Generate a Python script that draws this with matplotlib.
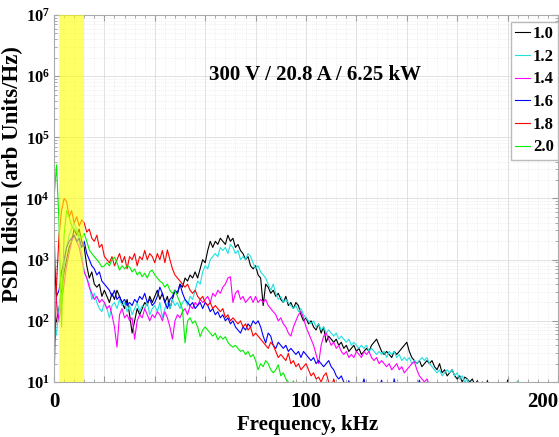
import numpy as np
import matplotlib
matplotlib.use("Agg")
import matplotlib.pyplot as plt
from matplotlib.ticker import MultipleLocator, FixedLocator, NullFormatter

plt.rcParams['font.family'] = ['Liberation Serif', 'DejaVu Serif']
plt.rcParams['font.weight'] = 'bold'
plt.rcParams['mathtext.fontset'] = 'custom'
plt.rcParams['mathtext.rm'] = 'Liberation Serif:bold'
plt.rcParams['mathtext.it'] = 'Liberation Serif:bold'
plt.rcParams['mathtext.bf'] = 'Liberation Serif:bold'

# log10(PSD) values, one value per 1 kHz starting at 0 kHz
labels = ['1.0', '1.2', '1.4', '1.6', '1.8', '2.0']
colors = ['#000000', '#22e0e0', '#ff00ff', '#0000ff', '#ff0000', '#00ee00']

psd_10 = [1.9, 2.0, 2.2, 2.5, 2.8, 3.0, 3.2, 3.3, 3.5, 3.4, 3.5, 3.3, 3.2,
          2.9, 2.7, 2.8, 2.6, 2.55, 2.6, 2.4, 2.5,
          2.4, 2.3, 2.45, 2.35, 2.5, 2.4, 2.3, 2.2, 2.35, 2.1,
          1.8, 2.0, 2.2, 2.1, 2.2, 2.3, 2.25, 2.4, 2.3, 2.4,
          2.5, 2.35, 2.45, 2.3, 2.4, 2.2, 2.35, 2.5, 2.45, 2.6,
          2.55, 2.7, 2.65, 2.75, 2.7, 2.8, 2.7, 2.85, 3.0, 2.95,
          3.15, 3.3, 3.2, 3.3, 3.25, 3.35, 3.3, 3.25, 3.4, 3.3,
          3.35, 3.2, 3.25, 3.15, 3.1, 3.0, 3.05, 2.9, 2.85, 2.9,
          2.75, 2.7, 2.25, 2.6, 2.55, 2.45, 2.5, 2.4, 2.45, 2.35,
          2.3, 2.4, 2.25, 2.3, 2.2, 2.3, 2.25, 2.1, 2.0, 2.05,
          1.95, 2.0, 1.9, 1.85, 1.95, 1.8, 1.9, 1.65, 1.75, 1.7,
          1.65, 1.7, 1.6, 1.65, 1.55, 1.6, 1.5, 1.55, 1.6, 1.5,
          1.55, 1.45, 1.5, 1.55, 1.5, 1.6, 1.65, 1.7, 1.6, 1.5,
          1.45, 1.5, 1.45, 1.4, 1.5, 1.45, 1.5, 1.55, 1.6, 1.65,
          1.5, 1.4, 1.35, 1.3, 1.35, 1.25, 1.3, 1.35, 1.3, 1.35,
          1.25, 1.2, 1.3, 1.15, 1.2, 1.1, 1.15, 1.2, 1.1, 1.05,
          1.1, 1.0, 1.08, 1.05, 1.0, 1.05, 0.95, 1.02, 0.9, 1.0,
          0.9, 1.02, 0.85, 0.9, 0.8, 0.9, 0.85, 0.95, 0.8, 1.03]

psd_12 = [1.65, 1.8, 2.2, 2.6, 2.9, 3.2, 3.4, 3.5, 3.6, 3.5, 3.3, 3.1, 2.8,
          2.7, 2.6, 2.35, 2.45, 2.3, 2.2, 2.15, 2.3,
          2.2, 2.05, 2.25, 2.3, 2.2, 2.35, 2.25, 2.3, 2.15, 2.25,
          2.1, 2.2, 2.3, 2.15, 2.25, 2.2, 2.3, 2.1, 2.2, 2.25,
          2.15, 2.3, 2.05, 2.2, 2.3, 2.2, 2.35, 2.25, 2.3, 2.2,
          2.3, 2.35, 2.25, 2.4, 2.35, 2.5, 2.65, 2.6, 2.8, 2.9,
          2.85, 3.0, 3.05, 3.1, 3.05, 3.2, 3.15, 3.2, 3.1, 3.25,
          3.2, 3.1, 3.15, 3.0, 3.05, 3.0, 3.1, 3.05, 2.95, 2.85,
          2.9, 2.8, 2.75, 2.7, 2.6, 2.5, 2.6, 2.45, 2.35, 2.4,
          2.3, 2.35, 2.3, 2.25, 2.2, 2.25, 2.15, 2.2, 2.1, 2.05,
          2.0, 1.95, 2.0, 1.9, 1.95, 1.85, 1.9, 1.8, 1.85, 1.8,
          1.75, 1.8, 1.7, 1.75, 1.7, 1.65, 1.7, 1.6, 1.65, 1.6,
          1.55, 1.6, 1.55, 1.6, 1.5, 1.55, 1.5, 1.45, 1.5, 1.45,
          1.5, 1.4, 1.5, 1.45, 1.5, 1.4, 1.45, 1.35, 1.4, 1.35,
          1.4, 1.3, 1.35, 1.3, 1.35, 1.4, 1.35, 1.4, 1.3, 1.25,
          1.2, 1.15, 1.2, 1.1, 1.15, 1.2, 1.15, 1.2, 1.1, 1.15,
          1.05, 1.1, 1.0, 1.05, 0.95, 1.0, 0.9, 1.0, 0.85, 0.9,
          0.8, 0.9, 0.85, 0.95, 0.8, 0.9, 0.85, 0.8, 0.9, 0.85,
          0.8, 0.9, 0.95, 1.02, 0.8]

psd_14 = [3.5, 2.3, 2.0, 2.3, 2.6, 2.9, 3.1, 3.3, 3.4, 3.3, 3.2, 3.0, 2.8,
          2.7, 2.55, 2.45, 2.35, 2.4, 2.3, 2.35, 2.3,
          2.2, 2.25, 2.1, 1.9, 1.57, 2.1, 2.2, 2.05, 2.1, 2.0,
          2.05, 1.7, 2.0, 2.1, 2.05, 2.2, 2.1, 2.0, 2.1, 2.05,
          2.15, 2.1, 2.0, 2.15, 2.05, 1.9, 1.7, 2.0, 2.1, 2.05,
          2.15, 2.2, 2.1, 2.25, 2.2, 2.3, 2.25, 2.35, 2.3, 2.35,
          2.4, 2.3, 2.45, 2.4, 2.5, 2.45, 2.55, 2.6, 2.7, 2.72,
          2.3, 2.45, 2.5, 2.35, 2.4, 2.3, 2.35, 2.4, 2.3, 2.4,
          2.3, 2.35, 2.3, 2.35, 2.25, 2.2, 2.15, 2.1, 2.0, 2.05,
          1.95, 1.9, 1.8, 1.75, 1.9, 2.0, 2.1, 2.15, 2.05, 1.9,
          1.8, 1.7, 1.6, 1.45, 1.3, 1.6, 1.75, 1.8, 1.7, 1.6,
          1.65, 1.55, 1.6, 1.5, 1.45, 1.5, 1.4, 1.45, 1.4, 1.5,
          1.45, 1.4, 1.5, 1.45, 1.5, 1.4, 1.35, 1.4, 1.3, 1.35,
          1.3, 1.25, 1.3, 1.2, 1.25, 1.3, 1.2, 1.25, 1.15, 1.2,
          1.25, 1.3, 1.33, 1.2, 1.1, 1.05, 1.0, 1.05, 0.95, 0.9, 0.85]

psd_16 = [3.0, 2.4, 2.5, 2.8, 3.0, 3.2, 3.3, 3.35, 3.4, 3.3, 3.35, 3.2, 3.3,
          3.1, 3.0, 2.9, 2.85, 2.75, 2.8, 2.65, 2.6,
          2.55, 2.5, 2.4, 2.5, 2.35, 2.4, 2.3, 2.35, 2.25, 2.3,
          2.25, 2.35, 2.3, 2.4, 2.35, 2.45, 2.3, 2.35, 2.25, 2.3,
          2.4, 2.55, 2.45, 2.3, 2.2, 2.35, 2.4, 2.5, 2.45, 2.6,
          2.45, 2.35, 2.3, 2.25, 2.3, 2.2, 2.25, 2.3, 2.2, 2.3,
          2.25, 2.15, 2.2, 2.1, 2.15, 2.05, 2.1, 2.0, 2.05, 1.95,
          2.0, 1.9, 1.85, 1.8, 1.9, 1.85, 1.95, 1.9, 2.0, 1.95,
          2.0, 1.9, 1.75, 1.64, 1.8, 1.75, 1.6, 1.55, 1.65, 1.6,
          1.55, 1.6, 1.5, 1.55, 1.5, 1.45, 1.5, 1.4, 1.5, 1.45,
          1.4, 1.35, 1.4, 1.3, 1.35, 1.3, 1.25, 1.3, 1.35, 1.25,
          1.2, 1.1, 1.05, 1.1, 1.0, 0.9, 1.02, 0.9, 0.85, 0.95,
          0.8, 0.9, 1.05, 0.85, 0.8, 0.9, 0.85, 0.8, 0.9, 1.03,
          0.8, 0.85, 0.9, 0.8, 1.05, 0.85, 0.8, 0.9, 0.8, 0.85,
          0.9, 0.8, 0.85, 0.9, 1.03, 0.85, 0.8, 0.9, 0.8, 0.85]

psd_18 = [1.0, 2.6, 3.4, 3.8, 4.0, 3.95, 3.7, 3.8, 3.6, 3.7, 3.55, 3.65, 3.6,
          3.45, 3.5, 3.35, 3.3, 3.4, 3.2, 3.25, 3.05,
          3.0, 2.95, 3.05, 2.9, 3.0, 3.1, 2.95, 3.05, 2.85, 3.05,
          3.0, 3.1, 2.9, 3.05, 3.0, 3.15, 3.0, 3.1, 3.05, 2.95,
          3.1, 3.0, 3.15, 2.95, 3.16, 3.0, 2.85, 2.75, 2.7, 2.65,
          2.6, 2.55, 2.6, 2.5, 2.45, 2.5, 2.4, 2.35, 2.4, 2.3,
          2.25, 2.3, 2.2, 2.25, 2.2, 2.15, 2.2, 2.05, 2.1, 2.0,
          2.05, 2.0, 1.95, 2.0, 1.9, 1.95, 1.85, 1.9, 1.75, 1.8,
          1.75, 1.7, 1.65, 1.6, 1.55, 1.65, 1.6, 1.5, 1.4, 1.45,
          1.4, 1.35, 1.47, 1.3, 1.35, 1.25, 1.3, 1.2, 1.25, 1.3,
          1.2, 1.1, 1.15, 1.05, 1.08, 1.0, 1.1, 1.15, 1.0, 0.9,
          1.05, 0.9, 0.85, 0.95, 0.8]

psd_20 = [4.0, 4.55, 3.6, 1.9, 3.4, 3.8, 3.7, 3.55, 3.5, 3.45, 3.4, 3.35, 3.43,
          3.3, 3.16, 3.1, 3.05, 3.0, 2.95, 2.88, 2.9,
          2.95, 2.9, 3.0, 3.04, 2.95, 2.83, 2.9, 2.85, 2.9, 2.88,
          2.8, 2.85, 2.75, 2.8, 2.72, 2.78, 2.7, 2.8, 2.83, 2.75,
          2.7, 2.65, 2.62, 2.55, 2.6, 2.5, 2.45, 2.5, 2.4, 2.3,
          2.18, 1.64, 2.0, 2.05, 1.96, 2.0, 1.9, 1.74, 1.85, 1.9,
          1.85, 1.8, 1.75, 1.8, 1.69, 1.75, 1.7, 1.74, 1.65, 1.6,
          1.57, 1.6, 1.55, 1.5, 1.52, 1.45, 1.5, 1.41, 1.45, 1.35,
          1.2, 1.3, 1.25, 1.35, 1.3, 1.2, 1.15, 1.2, 1.28, 1.1,
          1.15, 1.05, 1.0, 0.9, 1.02, 0.85, 0.9, 0.8, 1.01, 0.85]

series = [psd_10, psd_12, psd_14, psd_16, psd_18, psd_20]
y_decades = [1, 2, 3, 4, 5, 6, 7]

fig = plt.figure(figsize=(5.59, 4.37), dpi=100)
ax = fig.add_axes([54 / 559, 55 / 437, 504 / 559, 367 / 437])

for vals, lab, col in zip(series, labels, colors):
    f = np.arange(len(vals))
    ax.plot(f, 10 ** np.array(vals), color=col, lw=0.8, label=lab, zorder=2)

# highlighted low-frequency band (drawn over the traces)
ax.axvspan(2, 12, color='#ffff00', alpha=0.6, lw=0, zorder=3)

ax.set_yscale('log')
ax.set_xlim(0, 200)
ax.set_ylim(10, 1e7)

ax.xaxis.set_minor_locator(MultipleLocator(4))
ax.set_xticks(np.arange(0, 201, 20))
ax.set_xticklabels(['0', '', '', '', '', '100', '', '', '', '', '200'])
ax.xaxis.get_ticklabels()[-1].set_ha('right')

ax.set_yticks([10.0 ** d for d in y_decades])
ax.set_yticklabels([r'$10^{%d}$' % d for d in y_decades])
minor_y = [m * 10.0 ** d for d in y_decades[:-1] for m in range(2, 10)]
ax.yaxis.set_minor_locator(FixedLocator(minor_y))
ax.yaxis.set_minor_formatter(NullFormatter())

ax.tick_params(which='both', direction='in', top=True, right=True, color='#999999')
ax.tick_params(which='major', length=4)
ax.tick_params(which='minor', length=2)
ax.tick_params(axis='x', labelsize=15, pad=7)
ax.tick_params(axis='y', labelsize=12, pad=3)

ax.grid(True, which='major', color='#dcdcdc', lw=0.6, ls='-')
ax.grid(True, which='minor', color='#e4e4e4', lw=0.5, ls=':')
ax.set_axisbelow(True)
for sp in ax.spines.values():
    sp.set_color('#aaaaaa')

ax.set_xlabel('Frequency, kHz', fontsize=15, fontweight='bold')
ax.xaxis.set_label_coords(0.504, -0.09)
ax.set_ylabel('PSD Idisch (arb Units/Hz)', fontsize=16.5, fontweight='bold')
ax.yaxis.set_label_coords(-0.062, 0.567)

ax.text(0.518, 0.836, '300 V / 20.8 A / 6.25 kW', transform=ax.transAxes,
        ha='center', va='center', fontsize=15, fontweight='bold')

leg = ax.legend(loc='upper right', bbox_to_anchor=(1.0, 0.981), borderaxespad=0,
                fontsize=12, handlelength=0.9, handletextpad=0.15, labelspacing=0.4,
                borderpad=0.25, fancybox=False, framealpha=1, edgecolor='#bbbbbb')
leg.set_zorder(5)

fig.savefig('out.png', dpi=100)
